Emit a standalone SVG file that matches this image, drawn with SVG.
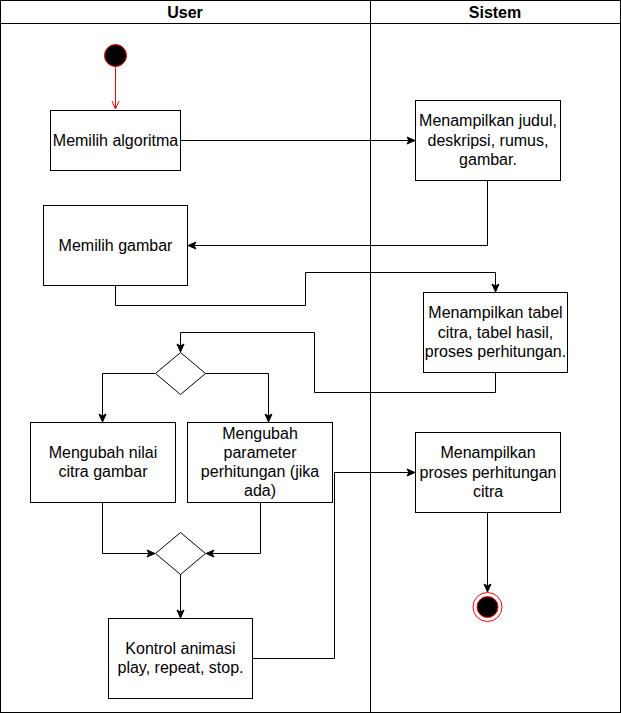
<svg xmlns="http://www.w3.org/2000/svg" width="621" height="713" viewBox="0 0 621 713">
<style>
.box{fill:#fff;stroke:#000;stroke-width:1}
.t{font-family:"Liberation Sans",Arial,sans-serif;font-size:16px;fill:#000;text-anchor:middle}
.h{font-family:"Liberation Sans",Arial,sans-serif;font-size:16px;font-weight:bold;fill:#000;text-anchor:middle}
.c{fill:none;stroke:#000;stroke-width:1;marker-end:url(#arr)}
</style>
<defs>
<marker id="arr" viewBox="0 0 10 10" refX="9" refY="5" markerWidth="10" markerHeight="10" markerUnits="userSpaceOnUse" orient="auto">
<path d="M1,1.5 L9,5 L1,8.5 L3,5 Z" fill="#000" stroke="#000" stroke-width="1"/>
</marker>
<marker id="open" viewBox="0 0 10 10" refX="9" refY="5" markerWidth="10" markerHeight="10" markerUnits="userSpaceOnUse" orient="auto">
<path d="M1,1.5 L9,5 L1,8.5" fill="none" stroke="#ff0000" stroke-width="1"/>
</marker>
</defs>
<rect width="621" height="713" fill="#fff"/>
<g id="pool">
<rect x="0.5" y="0.5" width="620" height="712" fill="none" stroke="#000"/>
<line x1="0.5" y1="23.5" x2="620.5" y2="23.5" stroke="#000"/>
<line x1="370.5" y1="0.5" x2="370.5" y2="712.5" stroke="#000"/>
<text class="h" x="185" y="18">User</text>
<text class="h" x="495" y="18">Sistem</text>
</g>
<g id="connectors">
<path d="M115.5,67 L115.5,109" fill="none" stroke="#ff0000" marker-end="url(#open)"/>
<path class="c" d="M180,140.5 L415,140.5"/>
<path class="c" d="M487.5,180 L487.5,245.5 L188,245.5"/>
<path class="c" d="M115.5,285 L115.5,305.5 L305.5,305.5 L305.5,272.5 L495.5,272.5 L495.5,292"/>
<path class="c" d="M495.5,372 L495.5,392.5 L314.5,392.5 L314.5,332.5 L180.5,332.5 L180.5,352"/>
<path class="c" d="M155,373.5 L102.5,373.5 L102.5,422"/>
<path class="c" d="M205,373.5 L268.5,373.5 L268.5,422"/>
<path class="c" d="M102.5,502 L102.5,553.5 L155,553.5"/>
<path class="c" d="M260.5,502 L260.5,553.5 L206,553.5"/>
<path class="c" d="M180.5,574 L180.5,618"/>
<path class="c" d="M252,658.5 L334.5,658.5 L334.5,472.5 L415,472.5"/>
<path class="c" d="M487.5,512 L487.5,592"/>
</g>
<g id="start">
<circle cx="115.5" cy="55.5" r="11" fill="#000" stroke="#ff0000" stroke-width="1"/>
</g>
<g id="memilih-algoritma">
<rect class="box" x="50.5" y="110.5" width="130" height="60"/>
<text class="t" x="115.5" y="146">Memilih algoritma</text>
</g>
<g id="menampilkan-judul">
<rect class="box" x="415.5" y="100.5" width="145" height="80"/>
<text class="t" x="488" y="126.3">Menampilkan judul,</text>
<text class="t" x="488" y="145.5">deskripsi, rumus,</text>
<text class="t" x="488" y="164.7">gambar.</text>
</g>
<g id="memilih-gambar">
<rect class="box" x="43.5" y="205.5" width="144" height="80"/>
<text class="t" x="115.5" y="251">Memilih gambar</text>
</g>
<g id="menampilkan-tabel">
<rect class="box" x="423.5" y="292.5" width="144" height="80"/>
<text class="t" x="495.5" y="318.3">Menampilkan tabel</text>
<text class="t" x="495.5" y="337.5">citra, tabel hasil,</text>
<text class="t" x="495.5" y="356.7">proses perhitungan.</text>
</g>
<g id="decision-1">
<path class="box" d="M180.5,352.5 L205.5,373.5 L180.5,394.5 L155.5,373.5 Z"/>
</g>
<g id="mengubah-nilai">
<rect class="box" x="30.5" y="422.5" width="145" height="80"/>
<text class="t" x="103" y="457.9">Mengubah nilai</text>
<text class="t" x="103" y="477.1">citra gambar</text>
</g>
<g id="mengubah-parameter">
<rect class="box" x="187.5" y="422.5" width="145" height="80"/>
<text class="t" x="260" y="438.7">Mengubah</text>
<text class="t" x="260" y="457.9">parameter</text>
<text class="t" x="260" y="477.1">perhitungan (jika</text>
<text class="t" x="260" y="496.3">ada)</text>
</g>
<g id="menampilkan-proses">
<rect class="box" x="415.5" y="432.5" width="145" height="80"/>
<text class="t" x="488" y="458.3">Menampilkan</text>
<text class="t" x="488" y="477.5">proses perhitungan</text>
<text class="t" x="488" y="496.7">citra</text>
</g>
<g id="decision-2">
<path class="box" d="M180.5,532.5 L205.5,553.5 L180.5,574.5 L155.5,553.5 Z"/>
</g>
<g id="kontrol-animasi">
<rect class="box" x="108.5" y="618.5" width="144" height="80"/>
<text class="t" x="180.5" y="653.9">Kontrol animasi</text>
<text class="t" x="180.5" y="673.1">play, repeat, stop.</text>
</g>
<g id="end">
<circle cx="487.5" cy="607" r="14.5" fill="#fff" stroke="#ff0000" stroke-width="1"/>
<circle cx="487.5" cy="607" r="10.5" fill="#000" stroke="#ff0000" stroke-width="1"/>
</g>
</svg>
